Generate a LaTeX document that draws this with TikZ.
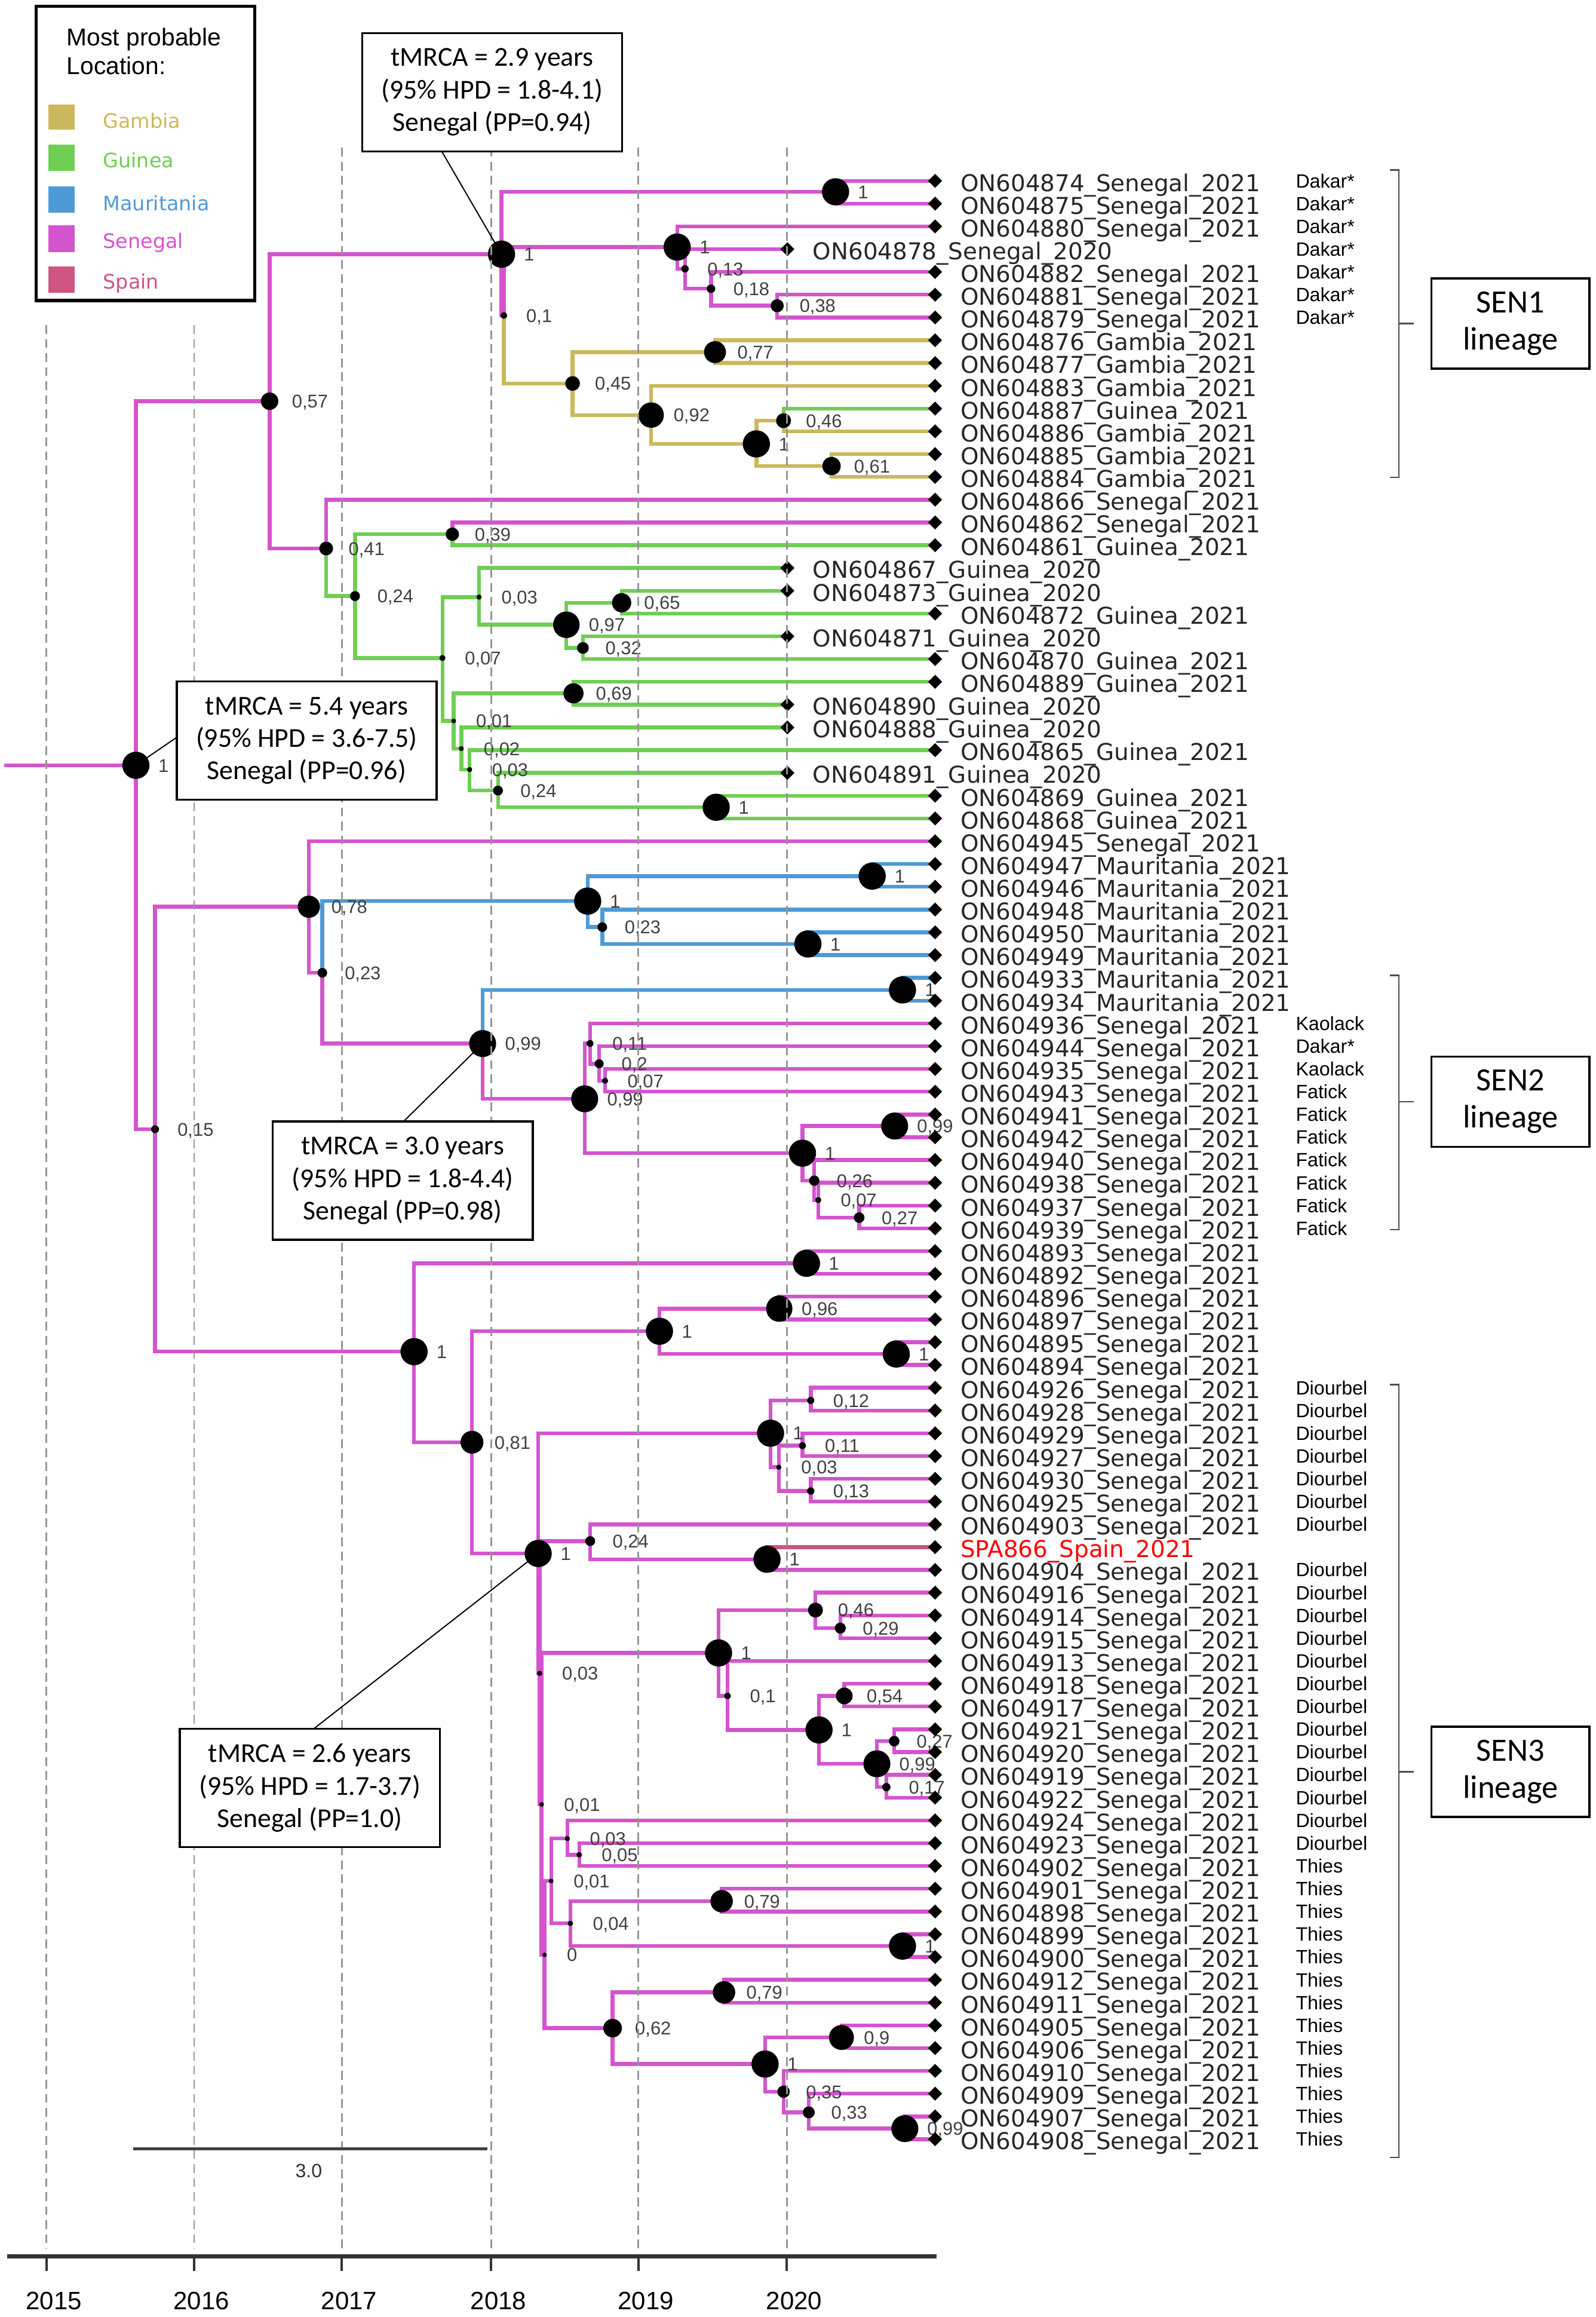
\documentclass[tikz,border=0pt]{standalone}
\usepackage{fontspec}
\setmainfont{Liberation Sans}
\newfontfamily\tipfont{DejaVu Sans}
\newfontfamily\calfont{Carlito}
\usetikzlibrary{shapes.geometric}

\definecolor{SenCol}{RGB}{212,84,206}
\definecolor{GuiCol}{RGB}{112,206,84}
\definecolor{MauCol}{RGB}{78,154,214}
\definecolor{GamCol}{RGB}{204,184,92}
\definecolor{SpaCol}{RGB}{206,84,130}
\definecolor{GridGray}{RGB}{150,150,150}

\pgfdeclarelayer{branches}
\pgfsetlayers{branches,main}

% y of tip number #1
\newcommand{\tipy}[1]{122.4+(#1-1)*15.41}

\begin{document}
\begin{tikzpicture}[x=1pt, y=-1pt,
    branch/.style={line width=2.6pt},
    sen/.style={draw=SenCol}, gam/.style={draw=GamCol}, gui/.style={draw=GuiCol},
    mau/.style={draw=MauCol}, spa/.style={draw=SpaCol},
    pplab/.style={anchor=base west, inner sep=0pt, text=black!75, font=\fontsize{12.5}{14}\selectfont},
    tipmark/.style={diamond, fill=black, inner sep=0pt, minimum width=9.6pt, minimum height=9.6pt},
    tiplab/.style={anchor=base west, inner sep=0pt, text=black!85, font=\tipfont\fontsize{15.7}{18}\selectfont},
    loclab/.style={anchor=base west, inner sep=0pt, font=\fontsize{13}{15}\selectfont},
    legtext/.style={anchor=base west, inner sep=0pt, font=\tipfont\fontsize{13.5}{15}\selectfont},
    callout/.style={draw, line width=1.4pt, fill=white, align=center, inner sep=0pt,
      minimum width=176pt, minimum height=80pt, font=\calfont\fontsize{18.5}{22}\selectfont},
    lineagebox/.style={draw, line width=1.4pt, fill=white, align=center, inner sep=0pt,
      minimum width=107pt, minimum height=61pt, font=\calfont\fontsize{22}{25}\selectfont},
    gridline/.style={draw=GridGray, line width=1.2pt, dash pattern=on 6pt off 3.5pt},
    bracket/.style={draw=black!70, line width=1pt},
  ]
  \useasboundingbox (0,0) rectangle (1080,1568);

  % legend
  \draw[line width=2.2pt] (24.4,4.3) rectangle (172.5,203.4);
  \node[anchor=base west, inner sep=0pt, font=\fontsize{16.5}{20}\selectfont] (legtitle) at (45,31) {Most probable};
  \node[anchor=base west, inner sep=0pt, font=\fontsize{16.5}{20}\selectfont] (legtitle2) at (45,50.3) {Location:};
  \foreach \c/\ya/\yb/\yt/\txt in {GamCol/70.7/87.8/86.7/Gambia, GuiCol/98/115.6/113.5/Guinea,
      MauCol/126.3/143.9/142.4/Mauritania, SenCol/152.4/170.6/168/Senegal, SpaCol/180.3/198/195.3/Spain}{
    \fill[\c] (32.6,\ya) rectangle (50.5,\yb);
    \node[legtext, text=\c] (leg-\txt) at (69.6,\yt) {\txt};
  }

  % root
  \coordinate (root) at (92,517.9);
  \coordinate (rootstem) at (3,517.9);
  \begin{pgfonlayer}{branches}
    \draw[branch,sen] (rootstem) -- (root);
  \end{pgfonlayer}
  \fill (root) circle[radius=9.2pt];
  \node[pplab] (p-root) at (107,522.4) {1};

  % internal nodes: name/x/y/posterior/label/parent/colour
  \foreach \nm/\x/\y/\pp/\lab/\up/\col in {
    nA/182.5/271.5/0.57/{0,57}/root/sen,
    nB/339.5/172/1/1/nA/sen,
    nC/565.6/129.8/1/1/nB/sen,
    n01/341.1/213.5/0.1/{0,1}/nB/sen,
    nD/458.4/167.2/1/1/n01/sen,
    n013/463.7/181.9/0.13/{0,13}/nD/sen,
    n018/481.3/195.4/0.18/{0,18}/n013/sen,
    n038/526.1/206.9/0.38/{0,38}/n018/sen,
    n045/387.6/259.5/0.45/{0,45}/n01/gam,
    n077/484/238.3/0.77/{0,77}/n045/gam,
    n092/440.8/280.9/0.92/{0,92}/n045/gam,
    n1g/512/300.4/1/1/n092/gam,
    n046/530.4/284.7/0.46/{0,46}/n1g/gam,
    n061/562.9/315.4/0.61/{0,61}/n1g/gam,
    n041/220.8/371.2/0.41/{0,41}/nA/sen,
    n024/240.3/403.4/0.24/{0,24}/n041/gui,
    n039/306.2/361.5/0.39/{0,39}/n024/gui,
    n007/299.5/445.3/0.07/{0,07}/n024/gui,
    n003/324.3/404.1/0.03/{0,03}/n007/gui,
    n097/383.4/422.8/0.97/{0,97}/n003/gui,
    n065/420.8/407.9/0.65/{0,65}/n097/gui,
    n032/394.6/438.5/0.32/{0,32}/n097/gui,
    n001/307.1/487.9/0.01/{0,01}/n007/gui,
    n069/388.2/469.2/0.69/{0,69}/n001/gui,
    n002/312.3/506.6/0.02/{0,02}/n001/gui,
    n003b/317.9/520.8/0.03/{0,03}/n002/gui,
    n024b/337.1/535/0.24/{0,24}/n003b/gui,
    n1h/484.8/546.3/1/1/n024b/gui,
    n015/105/764.2/0.15/{0,15}/root/sen,
    n078/209.1/613.6/0.78/{0,78}/n015/sen,
    n023/218.2/658.3/0.23/{0,23}/n078/sen,
    n1m/397.8/609.8/1/1/n023/mau,
    n1m1/590.4/592.9/1/1/n1m/mau,
    n023b/407.7/627.4/0.23/{0,23}/n1m/mau,
    n1m2/546.9/638.8/1/1/n023b/mau,
    n099/326.7/706.2/0.99/{0,99}/n023/sen,
    n1m3/610.9/669.9/1/1/n099/mau,
    n099b/395.8/743.6/0.99/{0,99}/n099/sen,
    n011/399.4/706.2/0.11/{0,11}/n099b/sen,
    n02/405.6/719.9/0.2/{0,2}/n011/sen,
    n007b/409.6/731.4/0.07/{0,07}/n02/sen,
    n1s/543.2/780.4/1/1/n099b/sen,
    n099c/605.6/762/0.99/{0,99}/n1s/sen,
    n026/551.2/799/0.26/{0,26}/n1s/sen,
    n007c/553.9/812.1/0.07/{0,07}/n026/sen,
    n027/581.6/824/0.27/{0,27}/n007c/sen,
    n1t/280.3/914.7/1/1/n015/sen,
    n1u/545.9/854.9/1/1/n1t/sen,
    n081/319.5/976/0.81/{0,81}/n1t/sen,
    n1v/446.4/900.9/1/1/n081/sen,
    n096/527.5/885.6/0.96/{0,96}/n1v/sen,
    n1w/606.7/916.3/1/1/n1v/sen,
    n26/364.3/1051.3/1/1/n081/sen,
    n1x/521.6/969.9/1/1/n26/sen,
    n012/548.8/947.7/0.12/{0,12}/n1x/sen,
    n003d/527.2/992.9/0.03/{0,03}/n1x/sen,
    n011b/543.2/978.3/0.11/{0,11}/n003d/sen,
    n013b/548.8/1009/0.13/{0,13}/n003d/sen,
    n003e/365.3/1132.4/0.03/{0,03}/n26/sen,
    n024c/399.5/1042.9/0.24/{0,24}/n003e/sen,
    n1sp/519.2/1055.2/1/1/n024c/sen,
    n001b/366.6/1221.1/0.01/{0,01}/n003e/sen,
    n1y/486.4/1118.6/1/1/n001b/sen,
    n046b/552/1089.6/0.46/{0,46}/n1y/sen,
    n029/568.8/1101.8/0.29/{0,29}/n046b/sen,
    n01b/492.5/1147.7/0.1/{0,1}/n1y/sen,
    n1z/554.4/1170.7/1/1/n01b/sen,
    n054/571.5/1147.7/0.54/{0,54}/n1z/sen,
    n099d/593.6/1193.6/0.99/{0,99}/n1z/sen,
    n027b/605.3/1178.3/0.27/{0,27}/n099d/sen,
    n017/600/1209.4/0.17/{0,17}/n099d/sen,
    n0/368.6/1322.9/0/0/n001b/sen,
    n001c/373.1/1272.9/0.01/{0,01}/n0/sen,
    n003f/384.1/1244.2/0.03/{0,03}/n001c/sen,
    n005/392.1/1255.2/0.05/{0,05}/n003f/sen,
    n004/386.1/1301.6/0.04/{0,04}/n001c/sen,
    n079/488.5/1286.6/0.79/{0,79}/n004/sen,
    n1q/610.9/1317/1/1/n004/sen,
    n062/414.7/1372.5/0.62/{0,62}/n0/sen,
    n079b/490.1/1348.3/0.79/{0,79}/n062/sen,
    n1r/517.9/1396.8/1/1/n062/sen,
    n09/569.6/1378.8/0.9/{0,9}/n1r/sen,
    n035/530.4/1415.5/0.35/{0,35}/n1r/sen,
    n033/547.5/1429.5/0.33/{0,33}/n035/sen,
    n099e/612.5/1440.5/0.99/{0,99}/n033/sen}{
    \coordinate (\nm) at (\x,\y);
    \begin{pgfonlayer}{branches}
      \draw[branch,\col] (\nm) -| (\up);
    \end{pgfonlayer}
    \fill (\nm) circle[radius={(1.5+7.7*\pp)*1pt}];
    \node[pplab] (p-\nm) at ({\x+15},{\y+4.5}) {\lab};
  }

  % tips: number/x/parent/colour/label
  \foreach \i/\tx/\up/\col/\lab in {
    1/633/nC/sen/ON604874\_Senegal\_2021,
    2/633/nC/sen/ON604875\_Senegal\_2021,
    3/633/nD/sen/ON604880\_Senegal\_2021,
    4/533/n013/sen/ON604878\_Senegal\_2020,
    5/633/n018/sen/ON604882\_Senegal\_2021,
    6/633/n038/sen/ON604881\_Senegal\_2021,
    7/633/n038/sen/ON604879\_Senegal\_2021,
    8/633/n077/gam/ON604876\_Gambia\_2021,
    9/633/n077/gam/ON604877\_Gambia\_2021,
    10/633/n092/gam/ON604883\_Gambia\_2021,
    11/633/n046/gui/ON604887\_Guinea\_2021,
    12/633/n046/gam/ON604886\_Gambia\_2021,
    13/633/n061/gam/ON604885\_Gambia\_2021,
    14/633/n061/gam/ON604884\_Gambia\_2021,
    15/633/n041/sen/ON604866\_Senegal\_2021,
    16/633/n039/sen/ON604862\_Senegal\_2021,
    17/633/n039/gui/ON604861\_Guinea\_2021,
    18/533/n003/gui/ON604867\_Guinea\_2020,
    19/533/n065/gui/ON604873\_Guinea\_2020,
    20/633/n065/gui/ON604872\_Guinea\_2021,
    21/533/n032/gui/ON604871\_Guinea\_2020,
    22/633/n032/gui/ON604870\_Guinea\_2021,
    23/633/n069/gui/ON604889\_Guinea\_2021,
    24/533/n069/gui/ON604890\_Guinea\_2020,
    25/533/n002/gui/ON604888\_Guinea\_2020,
    26/633/n003b/gui/ON604865\_Guinea\_2021,
    27/533/n024b/gui/ON604891\_Guinea\_2020,
    28/633/n1h/gui/ON604869\_Guinea\_2021,
    29/633/n1h/gui/ON604868\_Guinea\_2021,
    30/633/n078/sen/ON604945\_Senegal\_2021,
    31/633/n1m1/mau/ON604947\_Mauritania\_2021,
    32/633/n1m1/mau/ON604946\_Mauritania\_2021,
    33/633/n023b/mau/ON604948\_Mauritania\_2021,
    34/633/n1m2/mau/ON604950\_Mauritania\_2021,
    35/633/n1m2/mau/ON604949\_Mauritania\_2021,
    36/633/n1m3/mau/ON604933\_Mauritania\_2021,
    37/633/n1m3/mau/ON604934\_Mauritania\_2021,
    38/633/n011/sen/ON604936\_Senegal\_2021,
    39/633/n02/sen/ON604944\_Senegal\_2021,
    40/633/n007b/sen/ON604935\_Senegal\_2021,
    41/633/n007b/sen/ON604943\_Senegal\_2021,
    42/633/n099c/sen/ON604941\_Senegal\_2021,
    43/633/n099c/sen/ON604942\_Senegal\_2021,
    44/633/n026/sen/ON604940\_Senegal\_2021,
    45/633/n007c/sen/ON604938\_Senegal\_2021,
    46/633/n027/sen/ON604937\_Senegal\_2021,
    47/633/n027/sen/ON604939\_Senegal\_2021,
    48/633/n1u/sen/ON604893\_Senegal\_2021,
    49/633/n1u/sen/ON604892\_Senegal\_2021,
    50/633/n096/sen/ON604896\_Senegal\_2021,
    51/633/n096/sen/ON604897\_Senegal\_2021,
    52/633/n1w/sen/ON604895\_Senegal\_2021,
    53/633/n1w/sen/ON604894\_Senegal\_2021,
    54/633/n012/sen/ON604926\_Senegal\_2021,
    55/633/n012/sen/ON604928\_Senegal\_2021,
    56/633/n011b/sen/ON604929\_Senegal\_2021,
    57/633/n011b/sen/ON604927\_Senegal\_2021,
    58/633/n013b/sen/ON604930\_Senegal\_2021,
    59/633/n013b/sen/ON604925\_Senegal\_2021,
    60/633/n024c/sen/ON604903\_Senegal\_2021,
    62/633/n1sp/sen/ON604904\_Senegal\_2021,
    63/633/n046b/sen/ON604916\_Senegal\_2021,
    64/633/n029/sen/ON604914\_Senegal\_2021,
    65/633/n029/sen/ON604915\_Senegal\_2021,
    66/633/n01b/sen/ON604913\_Senegal\_2021,
    67/633/n054/sen/ON604918\_Senegal\_2021,
    68/633/n054/sen/ON604917\_Senegal\_2021,
    69/633/n027b/sen/ON604921\_Senegal\_2021,
    70/633/n027b/sen/ON604920\_Senegal\_2021,
    71/633/n017/sen/ON604919\_Senegal\_2021,
    72/633/n017/sen/ON604922\_Senegal\_2021,
    73/633/n003f/sen/ON604924\_Senegal\_2021,
    74/633/n005/sen/ON604923\_Senegal\_2021,
    75/633/n005/sen/ON604902\_Senegal\_2021,
    76/633/n079/sen/ON604901\_Senegal\_2021,
    77/633/n079/sen/ON604898\_Senegal\_2021,
    78/633/n1q/sen/ON604899\_Senegal\_2021,
    79/633/n1q/sen/ON604900\_Senegal\_2021,
    80/633/n079b/sen/ON604912\_Senegal\_2021,
    81/633/n079b/sen/ON604911\_Senegal\_2021,
    82/633/n09/sen/ON604905\_Senegal\_2021,
    83/633/n09/sen/ON604906\_Senegal\_2021,
    84/633/n035/sen/ON604910\_Senegal\_2021,
    85/633/n033/sen/ON604909\_Senegal\_2021,
    86/633/n099e/sen/ON604907\_Senegal\_2021,
    87/633/n099e/sen/ON604908\_Senegal\_2021}{
    \coordinate (t\i) at (\tx,{\tipy{\i}});
    \begin{pgfonlayer}{branches}
      \draw[branch,\col] (t\i) -| (\up);
    \end{pgfonlayer}
    \node[tipmark] (m\i) at (t\i) {};
    \node[tiplab] (s\i) at ({\tx+17},{\tipy{\i}+7}) {\lab};
  }
  % the Spanish sequence
  \coordinate (t61) at (633,{\tipy{61}});
  \begin{pgfonlayer}{branches}
    \draw[branch,spa] (t61) -| (n1sp);
  \end{pgfonlayer}
  \node[tipmark] (m61) at (t61) {};
  \node[tiplab, text=red] (s61) at (650,{\tipy{61}+7}) {SPA866\_Spain\_2021};

  % time grid
  \foreach \gx/\gy in {31.5/220, 131.4/220, 231.3/100, 332.4/100, 432.1/100, 532.6/100}
    \draw[gridline] (\gx,\gy) -- (\gx,1522);

  % time axis
  \draw[line width=2.6pt, black!80] (5,1527) -- (634,1527);
  \foreach \gx/\yr in {31.5/2015, 131.4/2016, 231.3/2017, 332.4/2018, 432.1/2019, 532.6/2020}{
    \draw[line width=1.6pt, black!80] (\gx,1527) -- (\gx,1537);
    \node[font=\fontsize{17}{20}\selectfont, anchor=base] (yr\yr) at ({\gx+5},1563) {\yr};
  }

  % scale bar
  \draw[line width=2pt, black!75] (90,1454) -- (330,1454);
  \node[font=\fontsize{13}{15}\selectfont, text=black!80] (scale) at (209,1469) {3.0};

  % tMRCA call-outs
  \node[callout] (c29) at (333.2,62.4) {tMRCA = 2.9 years\\(95\% HPD = 1.8-4.1)\\Senegal (PP=0.94)};
  \node[callout] (c54) at (207.6,501.2) {tMRCA = 5.4 years\\(95\% HPD = 3.6-7.5)\\Senegal (PP=0.96)};
  \node[callout] (c30) at (272.6,799) {tMRCA = 3.0 years\\(95\% HPD = 1.8-4.4)\\Senegal (PP=0.98)};
  \node[callout] (c26) at (209.7,1210) {tMRCA = 2.6 years\\(95\% HPD = 1.7-3.7)\\Senegal (PP=1.0)};
  \coordinate (c29foot) at (299,102.4);
  \coordinate (c54foot) at (119.6,499);
  \coordinate (c30foot) at (273.1,759);
  \coordinate (c26foot) at (212,1170.2);
  \draw[line width=0.8pt] (c29foot) -- (nB);
  \draw[line width=0.8pt] (c54foot) -- (root);
  \draw[line width=0.8pt] (c30foot) -- (n099);
  \draw[line width=0.8pt] (c26foot) -- (n26);

  % sampling locations
  \foreach \i in {1,...,7,39} \node[loclab] (loc\i) at (877,{\tipy{\i}+4.6}) {Dakar*};
  \foreach \i in {38,40} \node[loclab] (loc\i) at (877,{\tipy{\i}+4.6}) {Kaolack};
  \foreach \i in {41,...,47} \node[loclab] (loc\i) at (877,{\tipy{\i}+4.6}) {Fatick};
  \foreach \i in {54,...,60,62,63,...,74} \node[loclab] (loc\i) at (877,{\tipy{\i}+4.6}) {Diourbel};
  \foreach \i in {75,...,87} \node[loclab] (loc\i) at (877,{\tipy{\i}+4.6}) {Thies};

  % lineages
  \foreach \lin/\ya/\yb/\ym in {1/115/323/219, 2/660/832/745.5, 3/937/1460/1199}{
    \draw[bracket] (941,\ya) -- (947,\ya) -- (947,\yb) -- (941,\yb);
    \draw[bracket] (947,\ym) -- (957,\ym);
    \node[lineagebox] (sen\lin) at (1022.5,\ym) {SEN\lin\\lineage};
  }
\end{tikzpicture}
\end{document}
